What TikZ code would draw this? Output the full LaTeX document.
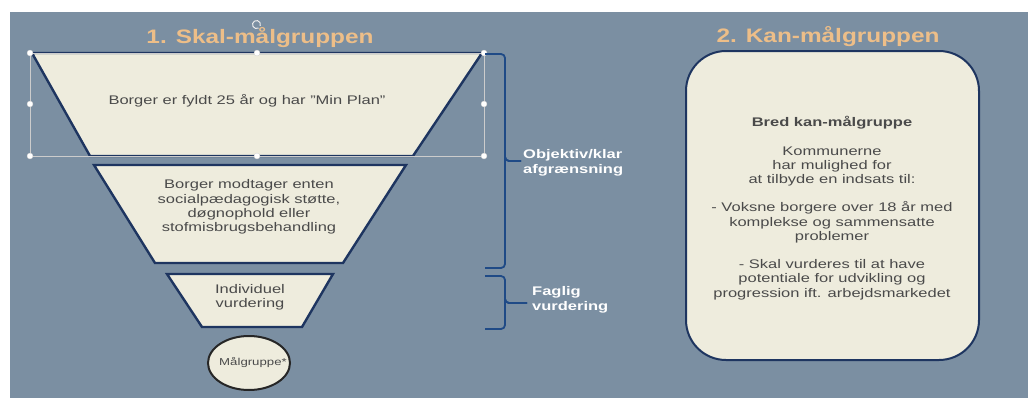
\documentclass[tikz,border=0pt]{standalone}
\usepackage{fontspec}
\setmainfont{Liberation Sans}[FakeStretch=1.32]
\newfontfamily\ttlfont{Liberation Sans}[FakeStretch=1.25]
\usetikzlibrary{shapes.geometric}
\definecolor{bg}{HTML}{7B8FA2}
\definecolor{fillc}{HTML}{EEECDD}
\definecolor{navy}{HTML}{1E3560}
\definecolor{titlec}{HTML}{EDBE88}
\definecolor{txt}{HTML}{4A4A4A}
\definecolor{bracec}{HTML}{1F4A86}
\tikzset{
  funnel/.style={draw=navy, fill=fillc, line width=2.4pt, line join=miter},
  ftext/.style={text=txt, align=center, font=\fontsize{12.5}{14.2}\selectfont, inner sep=0pt},
  ttl/.style={text=titlec, font=\ttlfont\fontsize{19.5}{22}\selectfont\bfseries, inner sep=0pt},
  blabel/.style={text=white, align=left, anchor=west, font=\fontsize{12.5}{14.5}\selectfont\bfseries, inner sep=0pt},
  bracep/.style={draw=bracec, line width=1.8pt, rounded corners=4pt},
  handle/.style={circle, fill=white, draw=gray!40, line width=0.3pt, inner sep=0pt, minimum size=6pt},
}
\begin{document}
\begin{tikzpicture}[x=1pt, y=-1pt]
\useasboundingbox (0,0) rectangle (1028,399);
\fill[white] (0,0) rectangle (1028,399);
\fill[bg] (10,12) rectangle (1028,398);

% titles
\node[ttl] (t1) at (260,38) {1. Skal-målgruppen};
\node[ttl] (t2) at (828,37) {2. Kan-målgruppen};

% funnel
\draw[funnel] (32,53) -- (482,53) -- (413,156) -- (90,156) -- cycle;
\node[ftext] (f1) at (247,101) {Borger er fyldt 25 år og har "Min Plan"};
\draw[funnel] (94,165) -- (406,165) -- (343,263) -- (155,263) -- cycle;
\node[ftext] (f2) at (249,207) {Borger modtager enten\\socialpædagogisk støtte,\\døgnophold eller\\stofmisbrugsbehandling};
\draw[funnel] (167,274) -- (333,274) -- (302,327) -- (202,327) -- cycle;
\node[ftext] (f3) at (250,297) {Individuel\\vurdering};
\node[ellipse, draw=black!85, fill=fillc, line width=2pt, minimum width=82pt, minimum height=54pt, inner sep=0pt] (m) at (249,363) {};
\begin{scope}
\clip (249,363) ellipse [x radius=40pt, y radius=26pt];
\node[text=txt, font=\fontsize{10}{11}\selectfont, inner sep=0pt] (ml) at (253,363) {Målgruppe*};
\end{scope}

% selection frame and handles
\draw[gray!40, line width=0.4pt] (30,53) rectangle (484,156);
\foreach \p [count=\i] in {(30,53),(257,53),(484,53),(30,104),(484,104),(30,156),(257,156),(484,156)}
  \node[handle] (h\i) at \p {};
\draw[white!85!gray, line width=1pt] (258.5,28) arc (60:380:4);

% braces
\coordinate (b1a) at (485,54);
\coordinate (b1t) at (521,161);
\coordinate (b1b) at (485,268);
\draw[bracep] (b1a) -| (505,161) -- (b1t);
\draw[bracep] (b1t) -| (505,161) |- (b1b);
\node[blabel] (l1) at (523,163) {Objektiv/klar\\afgrænsning};

\coordinate (b2a) at (485,276);
\coordinate (b2t) at (527,303);
\coordinate (b2b) at (485,329);
\draw[bracep] (b2a) -| (505,303) -- (b2t);
\draw[bracep] (b2t) -| (505,303) |- (b2b);
\node[blabel] (l2) at (532,300) {Faglig\\vurdering};

% right box
\draw[funnel, line width=2pt, rounded corners=40pt] (686,51) rectangle (979,360);
\node[ftext] (k) at (832,208) {\textbf{Bred kan-målgruppe}\\[14.2pt]Kommunerne\\har mulighed for\\at tilbyde en indsats til:\\[14.2pt]- Voksne borgere over 18 år med\\komplekse og sammensatte\\problemer\\[14.2pt]- Skal vurderes til at have\\potentiale for udvikling og\\progression ift. arbejdsmarkedet};
\end{tikzpicture}
\end{document}
